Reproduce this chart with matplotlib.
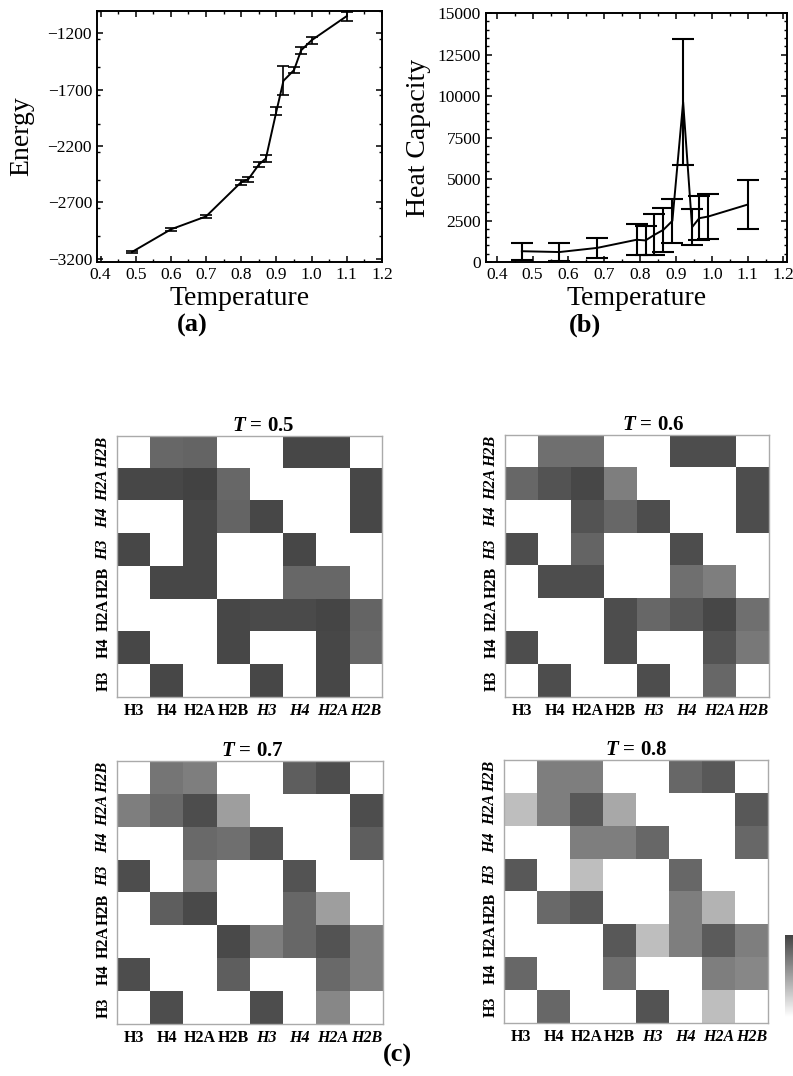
import matplotlib

matplotlib.use("Agg")

import matplotlib.pyplot as plt
import numpy as np
from matplotlib.colors import LinearSegmentedColormap
from matplotlib.ticker import MultipleLocator

plt.rcParams["font.family"] = ["Liberation Serif", "DejaVu Serif"]
plt.rcParams["mathtext.fontset"] = "custom"
plt.rcParams["mathtext.it"] = "Liberation Serif:italic:bold"
plt.rcParams["mathtext.rm"] = "Liberation Serif:bold"

# (a) energy vs temperature
temp_a = [0.49, 0.6, 0.7, 0.8, 0.82, 0.85, 0.87, 0.9, 0.92, 0.95, 0.97, 1.0, 1.1]
energy = [-3140, -2940, -2825, -2520, -2495, -2365, -2310, -1890, -1620, -1525, -1350, -1260, -1045]
energy_err = [12, 12, 15, 22, 20, 25, 30, 35, 130, 30, 33, 30, 40]

# (b) heat capacity vs temperature
temp_b = [0.47, 0.575, 0.68, 0.79, 0.815, 0.84, 0.865, 0.89, 0.92, 0.945, 0.965, 0.99, 1.1]
heat_cap = [650, 600, 850, 1340, 1300, 1640, 1940, 2480, 9640, 2100, 2640, 2740, 3460]
heat_err = [500, 540, 580, 940, 880, 1235, 1340, 1340, 3820, 1070, 1335, 1335, 1500]

# (c) contact maps, rows listed top to bottom
histones = ["H3", "H4", "H2A", "H2B"]
temps_c = [0.5, 0.6, 0.7, 0.8]
contacts_05 = [
    [0, .80, .82, 0, 0, .97, .97, 0],
    [.97, .97, 1.0, .80, 0, 0, 0, .97],
    [0, 0, .97, .82, .97, 0, 0, .97],
    [.97, 0, .97, 0, 0, .97, 0, 0],
    [0, .97, .97, 0, 0, .80, .80, 0],
    [0, 0, 0, .97, .95, .95, .98, .82],
    [.97, 0, 0, .97, 0, 0, .97, .80],
    [0, .97, 0, 0, .97, 0, .97, 0],
]
contacts_06 = [
    [0, .76, .76, 0, 0, .94, .94, 0],
    [.80, .91, .97, .68, 0, 0, 0, .94],
    [0, 0, .91, .80, .94, 0, 0, .94],
    [.94, 0, .82, 0, 0, .94, 0, 0],
    [0, .94, .94, 0, 0, .76, .68, 0],
    [0, 0, 0, .94, .80, .88, .97, .76],
    [.94, 0, 0, .94, 0, 0, .91, .71],
    [0, .94, 0, 0, .94, 0, .80, 0],
]
contacts_07 = [
    [0, .73, .68, 0, 0, .85, .94, 0],
    [.68, .79, .94, .51, 0, 0, 0, .94],
    [0, 0, .79, .76, .91, 0, 0, .85],
    [.94, 0, .68, 0, 0, .91, 0, 0],
    [0, .85, .96, 0, 0, .80, .51, 0],
    [0, 0, 0, .96, .68, .80, .91, .68],
    [.94, 0, 0, .85, 0, 0, .79, .68],
    [0, .94, 0, 0, .94, 0, .63, 0],
]
contacts_08 = [
    [0, .68, .68, 0, 0, .80, .88, 0],
    [.34, .68, .88, .46, 0, 0, 0, .88],
    [0, 0, .68, .68, .80, 0, 0, .80],
    [.88, 0, .34, 0, 0, .80, 0, 0],
    [0, .79, .88, 0, 0, .68, .40, 0],
    [0, 0, 0, .88, .34, .68, .86, .68],
    [.80, 0, 0, .76, 0, 0, .68, .63],
    [0, .80, 0, 0, .91, 0, .34, 0],
]
contact_maps = [contacts_05, contacts_06, contacts_07, contacts_08]

fig = plt.figure(figsize=(7.93, 10.76), dpi=100)


def style_line_axes(ax):
    ax.tick_params(which="both", direction="in", top=True, right=True, labelsize=12.5)
    ax.tick_params(which="major", length=4, width=1.1)
    ax.tick_params(which="minor", length=2, width=1.0)
    for s in ax.spines.values():
        s.set_linewidth(1.4)


ax_a = fig.add_axes([0.1223, 0.7565, 0.3594, 0.2333])
ax_a.errorbar(temp_a, energy, yerr=energy_err, color="black", lw=1.4,
              elinewidth=1.2, capsize=4, capthick=1.2)
ax_a.set_xlim(0.39, 1.2)
ax_a.set_ylim(-3230, -1000)
ax_a.set_xticks(np.arange(0.4, 1.21, 0.1))
ax_a.set_yticks([-3200, -2700, -2200, -1700, -1200])
ax_a.xaxis.set_minor_locator(MultipleLocator(0.05))
ax_a.yaxis.set_minor_locator(MultipleLocator(250))
ax_a.xaxis.set_major_formatter(lambda v, p: f"{v:.1f}")
ax_a.set_xlabel("Temperature", fontsize=20, labelpad=2)
ax_a.set_ylabel("Energy", fontsize=20, labelpad=10)
style_line_axes(ax_a)

ax_b = fig.add_axes([0.6129, 0.7565, 0.3796, 0.2314])
ax_b.errorbar(temp_b, heat_cap, yerr=heat_err, color="black", lw=1.4,
              elinewidth=1.5, capsize=8, capthick=1.5)
ax_b.set_xlim(0.37, 1.21)
ax_b.set_ylim(0, 15000)
ax_b.set_xticks(np.arange(0.4, 1.21, 0.1))
ax_b.set_yticks(np.arange(0, 15001, 2500))
ax_b.xaxis.set_minor_locator(MultipleLocator(0.05))
ax_b.yaxis.set_minor_locator(MultipleLocator(500))
ax_b.xaxis.set_major_formatter(lambda v, p: f"{v:.1f}")
ax_b.set_xlabel("Temperature", fontsize=20, labelpad=2)
ax_b.set_ylabel("Heat Capacity", fontsize=20, labelpad=5)
style_line_axes(ax_b)

fig.text(0.242, 0.6975, "(a)", fontsize=19, fontweight="bold", ha="center", va="center")
fig.text(0.7377, 0.6975, "(b)", fontsize=19, fontweight="bold", ha="center", va="center")
fig.text(0.5006, 0.0195, "(c)", fontsize=19, fontweight="bold", ha="center", va="center")

cmap = LinearSegmentedColormap.from_list("contact", ["white", "#424242"])
positions = [
    [0.1475, 0.3522, 0.3342, 0.2426],
    [0.6368, 0.3522, 0.3329, 0.2435],
    [0.1475, 0.0483, 0.3354, 0.2444],
    [0.6356, 0.0492, 0.3329, 0.2444],
]
title_x = [0.55, 0.56, 0.51, 0.50]
xlabels = histones + histones
ylabels = (histones + histones)[::-1]

for pos, t, data, tx in zip(positions, temps_c, contact_maps, title_x):
    ax = fig.add_axes(pos)
    im = ax.imshow(np.array(data), cmap=cmap, vmin=0, vmax=1, aspect="auto",
                   interpolation="nearest")
    ax.set_xticks(range(8))
    ax.set_yticks(range(8))
    ax.set_xticklabels(xlabels, fontsize=11.5, fontweight="bold")
    ax.set_yticklabels(ylabels, fontsize=11.5, fontweight="bold", rotation=90, va="center")
    for lab in ax.get_xticklabels()[4:]:
        lab.set_fontstyle("italic")
    for lab in ax.get_yticklabels()[:4]:
        lab.set_fontstyle("italic")
    ax.tick_params(length=0, pad=4)
    for s in ax.spines.values():
        s.set_color("#aaaaaa")
        s.set_linewidth(1.0)
    ax.text(tx, 1.02, rf"$T$ = {t}", transform=ax.transAxes, ha="center",
            va="baseline", fontsize=15, fontweight="bold")

cax = fig.add_axes([0.9899, 0.0548, 0.03, 0.0762])
cb = fig.colorbar(im, cax=cax)
cb.set_ticks([])
cb.outline.set_visible(False)

fig.savefig("out.png", dpi=100)
